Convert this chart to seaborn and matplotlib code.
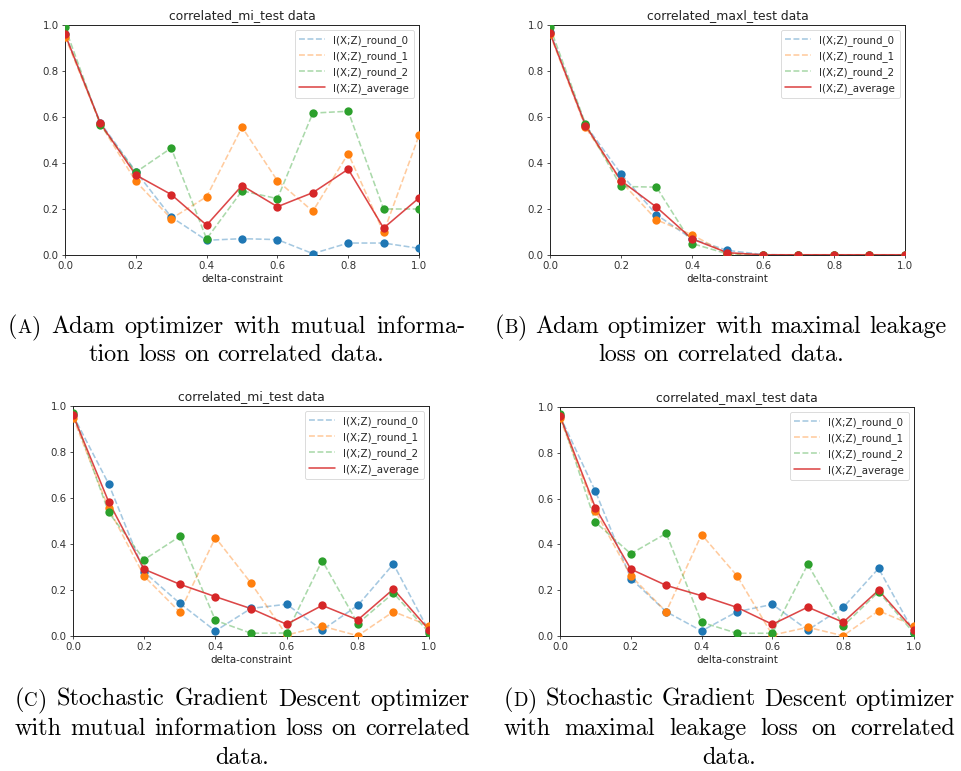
import numpy as np
import pandas as pd
import matplotlib
matplotlib.use("Agg")
import matplotlib.pyplot as plt
import seaborn as sns

# ---------------- data ----------------
delta = [0.0, 0.1, 0.2, 0.3, 0.4, 0.5, 0.6, 0.7, 0.8, 0.9, 1.0]
series_names = ["I(X;Z)_round_0", "I(X;Z)_round_1", "I(X;Z)_round_2", "I(X;Z)_average"]

# (A) Adam, mutual information loss
a_round0 = [0.96, 0.575, 0.363, 0.165, 0.064, 0.071, 0.067, 0.006, 0.052, 0.052, 0.029]
a_round1 = [0.95, 0.570, 0.320, 0.158, 0.253, 0.556, 0.323, 0.190, 0.441, 0.098, 0.520]
a_round2 = [0.99, 0.566, 0.360, 0.465, 0.070, 0.279, 0.245, 0.617, 0.625, 0.200, 0.200]
a_avg    = [0.96, 0.572, 0.348, 0.263, 0.130, 0.302, 0.210, 0.271, 0.373, 0.117, 0.248]

# (B) Adam, maximal leakage loss
b_round0 = [0.97, 0.565, 0.353, 0.175, 0.070, 0.020, 0.002, 0.0, 0.0, 0.0, 0.0]
b_round1 = [0.96, 0.555, 0.320, 0.153, 0.088, 0.005, 0.0, 0.0, 0.0, 0.0, 0.0]
b_round2 = [0.99, 0.570, 0.298, 0.295, 0.050, 0.005, 0.0, 0.0, 0.0, 0.0, 0.0]
b_avg    = [0.965, 0.563, 0.323, 0.208, 0.070, 0.010, 0.001, 0.001, 0.001, 0.001, 0.001]

# (C) SGD, mutual information loss
c_round0 = [0.96, 0.662, 0.278, 0.142, 0.022, 0.120, 0.138, 0.026, 0.133, 0.313, 0.021]
c_round1 = [0.95, 0.555, 0.260, 0.104, 0.428, 0.230, 0.004, 0.043, 0.001, 0.106, 0.045]
c_round2 = [0.97, 0.538, 0.332, 0.433, 0.068, 0.012, 0.013, 0.328, 0.054, 0.187, 0.015]
c_avg    = [0.96, 0.584, 0.290, 0.225, 0.171, 0.119, 0.051, 0.133, 0.070, 0.204, 0.027]

# (D) SGD, maximal leakage loss
d_round0 = [0.96, 0.632, 0.251, 0.106, 0.022, 0.106, 0.138, 0.026, 0.125, 0.295, 0.015]
d_round1 = [0.95, 0.545, 0.263, 0.106, 0.443, 0.263, 0.004, 0.038, 0.001, 0.110, 0.045]
d_round2 = [0.97, 0.497, 0.359, 0.448, 0.060, 0.012, 0.012, 0.313, 0.044, 0.193, 0.012]
d_avg    = [0.96, 0.560, 0.292, 0.221, 0.176, 0.125, 0.051, 0.126, 0.060, 0.200, 0.025]

titles = ["correlated_mi_test data", "correlated_maxl_test data",
          "correlated_mi_test data", "correlated_maxl_test data"]
ticks = [0.0, 0.2, 0.4, 0.6, 0.8, 1.0]
tick_labels = ["0.0", "0.2", "0.4", "0.6", "0.8", "1.0"]

caption_letters = ["A", "B", "C", "D"]
captions = [
    ["Adam optimizer with mutual informa-", "tion loss on correlated data."],
    ["Adam optimizer with maximal leakage", "loss on correlated data."],
    ["Stochastic Gradient Descent optimizer",
     "with mutual information loss on correlated", "data."],
    ["Stochastic Gradient Descent optimizer",
     "with maximal leakage loss on correlated", "data."],
]

panels = [
    [a_round0, a_round1, a_round2, a_avg],
    [b_round0, b_round1, b_round2, b_avg],
    [c_round0, c_round1, c_round2, c_avg],
    [d_round0, d_round1, d_round2, d_avg],
]

# ---------------- style ----------------
sns.set_theme(style="ticks")
plt.rcParams['font.family'] = ['DejaVu Sans']
colors = ["#1f77b4", "#ff7f0e", "#2ca02c", "#d62728"]

W, H = 962, 771
fig = plt.figure(figsize=(W / 100, H / 100), dpi=100)
fig.patch.set_facecolor("white")

# axes boxes in pixels: left, right, top, bottom
boxes = [(65, 419, 25, 255), (550, 905, 25, 255),
         (73, 429, 406, 636), (560, 914, 407, 636)]

fs = 7.4
for i, (box, series) in enumerate(zip(boxes, panels)):
    l, r, t, b = box
    ax = fig.add_axes([l / W, (H - b) / H, (r - l) / W, (b - t) / H])
    for j, (name, vals) in enumerate(zip(series_names, series)):
        df = pd.DataFrame({"delta": delta, "val": vals})
        if j < 3:
            sns.lineplot(data=df, x="delta", y="val", ax=ax, color=colors[j],
                         linestyle="--", alpha=0.4, linewidth=1.15, label=name)
        else:
            sns.lineplot(data=df, x="delta", y="val", ax=ax, color=colors[j],
                         linestyle="-", alpha=0.85, linewidth=1.15, label=name)
    for j, vals in enumerate(series):
        df = pd.DataFrame({"delta": delta, "val": vals})
        sns.scatterplot(data=df, x="delta", y="val", ax=ax, color=colors[j],
                        s=36, linewidth=0, legend=False, zorder=3)
    ax.set_xlim(0, 1)
    ax.set_ylim(0, 1)
    ax.set_xticks(ticks)
    ax.set_xticklabels(tick_labels)
    ax.set_yticks(ticks)
    ax.set_yticklabels(tick_labels)
    ax.tick_params(labelsize=fs, length=2.5, width=0.6, pad=2, colors="#333333")
    for sp in ax.spines.values():
        sp.set_linewidth(0.7)
        sp.set_color("#222222")
    ax.set_title(titles[i], fontsize=8.9, pad=4, color="#222222")
    ax.set_xlabel("delta-constraint", fontsize=fs, labelpad=2, color="#222222")
    ax.set_ylabel("")
    leg = ax.legend(loc="upper right", fontsize=fs, frameon=True,
                    handlelength=2.5, borderpad=0.45, labelspacing=0.5,
                    framealpha=0.8, edgecolor="#cccccc", fancybox=True)
    leg.get_frame().set_linewidth(0.6)

# ---------------- captions ----------------
cap_family = ["cmr10", "DejaVu Serif"]
cap_fs = 17.4
fig.canvas.draw()
renderer = fig.canvas.get_renderer()


def measure(s, size):
    t = fig.text(0, 0, s, family=cap_family, fontsize=size)
    w = t.get_window_extent(renderer).width
    t.remove()
    return w


def place_pieces(pieces, x, y):
    # pieces: list of (string, size); x,y in px (y from top, baseline)
    for s, size in pieces:
        fig.text(x / W, 1 - y / H, s, family=cap_family, fontsize=size,
                 ha="left", va="baseline", color="black")
        x += measure(s, size)


def word_pieces(word):
    return [(word, cap_fs)]


# (x0, x1, first baseline y, line step) per caption, in px
cap_layout = [(8, 465, 333, 28), (495, 947, 333, 28),
              (15, 470, 706, 29), (504, 955, 706, 29)]

for letter, lines, (x0, x1, y0, dy) in zip(caption_letters, captions, cap_layout):
    n = len(lines)
    for k, line in enumerate(lines):
        y = y0 + k * dy
        words = [word_pieces(w) for w in line.split(" ")]
        if k == 0:
            words = [[("(", cap_fs), (letter, cap_fs * 0.78), (")", cap_fs)]] + words
        widths = [sum(measure(s, sz) for s, sz in wp) for wp in words]
        if k < n - 1 and len(words) > 1:
            gap = (x1 - x0 - sum(widths)) / (len(words) - 1)
            x = x0
        else:
            gap = measure(" ", cap_fs)
            total = sum(widths) + gap * (len(words) - 1)
            x = (x0 + x1) / 2 - total / 2
        for wp, w in zip(words, widths):
            place_pieces(wp, x, y)
            x += w + gap

fig.savefig("out.png", dpi=100, facecolor="white")
